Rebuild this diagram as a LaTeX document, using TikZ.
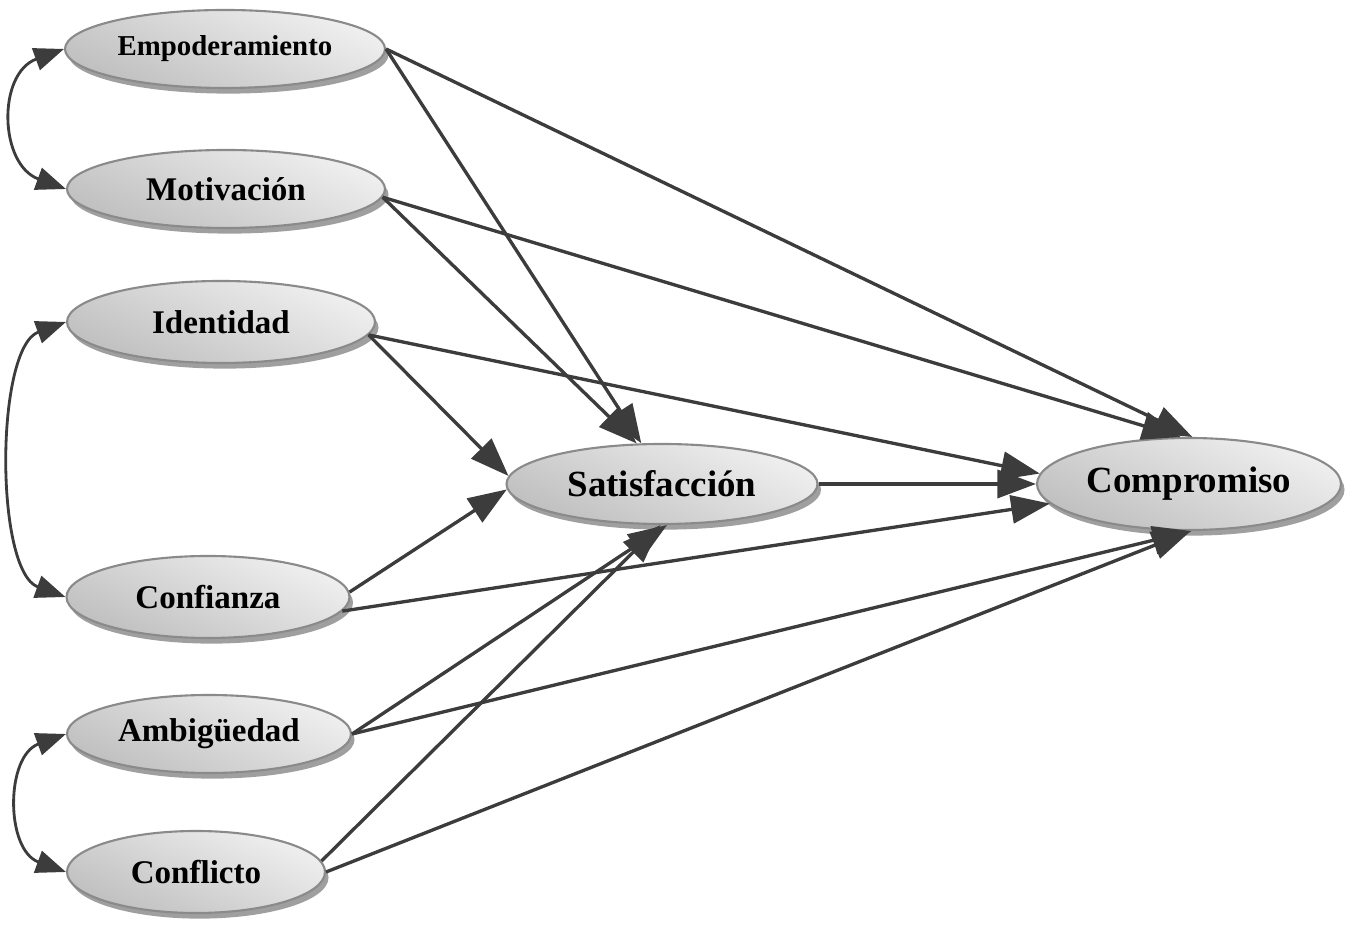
\documentclass[tikz,border=0pt]{standalone}
\usepackage{fontspec}
\setmainfont{Liberation Serif}
\usetikzlibrary{arrows.meta,shapes.geometric,shadows}
\definecolor{pathgray}{HTML}{3C3C3C}
\definecolor{rimgray}{HTML}{8A8A8A}

\begin{document}
\begin{tikzpicture}[font=\bfseries,
  var/.style={ellipse,draw=rimgray,line width=1.2pt,inner sep=0pt,
    top color=gray!12,bottom color=gray!50,shading angle=-25,
    drop shadow={shadow xshift=2pt,shadow yshift=-3.2pt,fill=gray!75,opacity=1}},
  sml/.style={var,font=\bfseries\fontsize{16.4}{20}\selectfont},
  mid/.style={var,font=\bfseries\fontsize{18.8}{22}\selectfont},
  big/.style={var,font=\bfseries\fontsize{21}{24}\selectfont},
  arr/.style={-{Triangle[length=22pt,width=16pt]},line width=1.9pt,draw=pathgray},
  cov/.style={{Triangle[length=17pt,width=13pt]}-{Triangle[length=17pt,width=13pt]},
    line width=1.6pt,draw=pathgray}]

  \useasboundingbox (0,0) rectangle (27.06,18.6);

  % exogenous variables
  \node[sml,minimum width=6.4cm,minimum height=1.56cm] (emp) at (4.50,17.62) {Empoderamiento};
  \node[mid,minimum width=6.36cm,minimum height=1.56cm] (mot) at (4.52,14.82) {Motivación};
  \node[mid,minimum width=6.16cm,minimum height=1.64cm] (ide) at (4.42,12.16) {Identidad};
  \node[mid,minimum width=5.66cm,minimum height=1.64cm] (con) at (4.16,6.66) {Confianza};
  \node[mid,minimum width=5.68cm,minimum height=1.56cm] (amb) at (4.18,3.92) {Ambigüedad};
  \node[mid,minimum width=5.16cm,minimum height=1.64cm] (cfl) at (3.92,1.16) {Conflicto};

  % endogenous variables
  \node[big,minimum width=6.22cm,minimum height=1.6cm] (sat) at (13.24,8.92) {Satisfacción};
  \node[big,minimum width=6.08cm,minimum height=1.84cm] (com) at (23.78,8.92) {Compromiso};

  \foreach \a/\b in {emp.east/sat.117,emp.east/com.86,mot.-3/sat.122,mot.-3/com.100,
      ide.-5/sat.177,ide.-5/com.176,con.2/sat.182,con.-6/com.188,
      amb.east/sat.-83,amb.east/com.-87,cfl.5/sat.-92,cfl.0/com.-88,sat.east/com.west}
    \draw[arr] (\a) -- (\b);

  % covariances
  \draw[cov] (emp.west) to[out=200,in=160,looseness=1.3] (mot.west);
  \draw[cov] (ide.west) to[out=200,in=160,looseness=0.7] (con.west);
  \draw[cov] (amb.west) to[out=200,in=160,looseness=1.2] (cfl.west);
\end{tikzpicture}
\end{document}
